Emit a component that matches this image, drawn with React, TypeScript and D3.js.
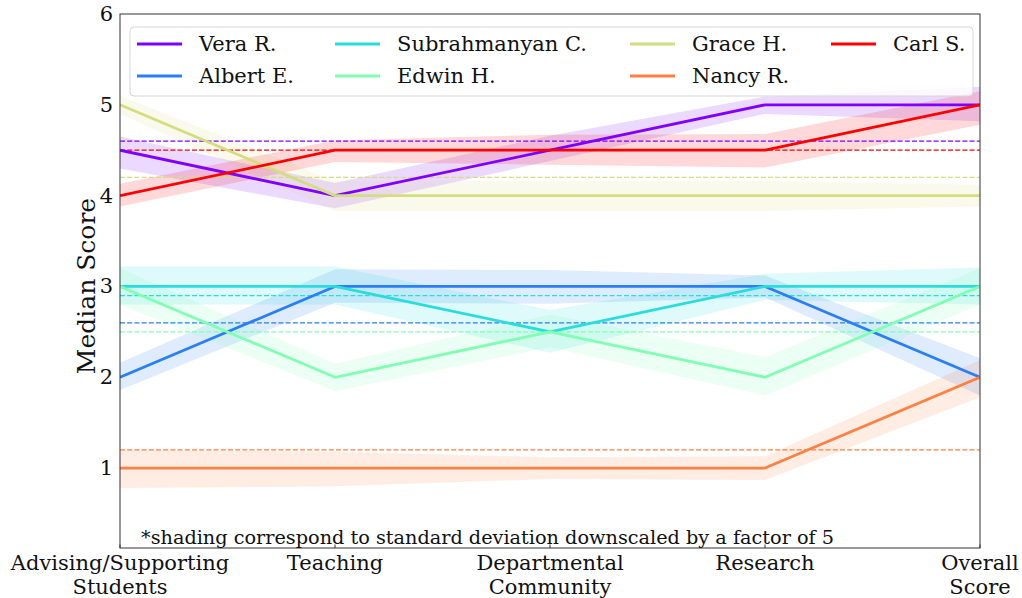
import React from "react";
import * as d3 from "d3";

const categories = ["Advising/Supporting\nStudents", "Teaching", "Departmental\nCommunity", "Research", "Overall\nScore"];
const names = ["Vera R.", "Albert E.", "Subrahmanyan C.", "Edwin H.", "Grace H.", "Nancy R.", "Carl S."];
const colors = ["#8000ff", "#2a7ff6", "#2adddd", "#80ffb4", "#d4dd80", "#ff8042", "#ff0000"];
const medians = [
  [4.5, 4, 4.5, 5, 5],
  [2, 3, 3, 3, 2],
  [3, 3, 2.5, 3, 3],
  [3, 2, 2.5, 2, 3],
  [5, 4, 4, 4, 4],
  [1, 1, 1, 1, 2],
  [4, 4.5, 4.5, 4.5, 5],
];
const bandLower = [
  [4.3, 3.86, 4.38, 4.9, 4.82],
  [1.86, 2.82, 2.81, 2.88, 1.8],
  [2.8, 2.8, 2.27, 2.85, 2.8],
  [2.8, 1.85, 2.33, 1.8, 2.8],
  [4.9, 3.83, 3.83, 3.83, 3.88],
  [0.78, 0.8, 0.88, 0.87, 1.78],
  [3.88, 4.37, 4.34, 4.31, 4.78],
];
const bandUpper = [
  [4.65, 4.14, 4.66, 5.09, 5.2],
  [2.16, 3.19, 3.18, 3.12, 2.21],
  [3.22, 3.22, 2.74, 3.14, 3.21],
  [3.2, 2.15, 2.69, 2.22, 3.2],
  [5.1, 4.16, 4.16, 4.16, 4.12],
  [1.2, 1.18, 1.12, 1.13, 2.19],
  [4.13, 4.61, 4.67, 4.68, 5.15],
];
const means = [4.6, 2.6, 2.9, 2.5, 4.2, 1.2, 4.5];
const yTicks = [1, 2, 3, 4, 5, 6];
const note = "*shading correspond to standard deviation downscaled by a factor of 5";

const W = 1022, H = 598;
const L = 120, R = 980, T = 14, B = 548;
const FONT = "'DejaVu Serif', serif";

export default function App() {
  const x = d3.scaleLinear().domain([0, categories.length - 1]).range([L, R]);
  const y = d3.scaleLinear().domain([0.12, 6]).range([B, T]);
  const line = d3.line<number>().x((_, i) => x(i)).y((d) => y(d));

  const bandPath = (s: number) =>
    d3
      .area<number>()
      .x((_, i) => x(i))
      .y0((_, i) => y(bandLower[s][i]))
      .y1((_, i) => y(bandUpper[s][i]))(bandLower[s]) as string;

  // legend layout: column-major, 2 rows, 4 cols
  const colX = [137, 335, 630, 831];
  const rowY = [44, 76];

  return (
    <svg width={W} height={H} style={{ position: "absolute", left: 0, top: 0, background: "#fff" }} fontFamily={FONT}>
      <rect x={0} y={0} width={W} height={H} fill="#fff" />
      <defs>
        <clipPath id="plot">
          <rect x={L} y={T} width={R - L} height={B - T} />
        </clipPath>
      </defs>
      <g clipPath="url(#plot)">
        {names.map((n, s) => (
          <path key={"b" + n} d={bandPath(s)} fill={colors[s]} fillOpacity={0.15} stroke="none" />
        ))}
        {names.map((n, s) => (
          <line
            key={"m" + n}
            x1={L}
            x2={R}
            y1={y(means[s])}
            y2={y(means[s])}
            stroke={colors[s]}
            strokeWidth={1.3}
            strokeDasharray="5,2.2"
          />
        ))}
        {names.map((n, s) => (
          <path key={"l" + n} d={line(medians[s]) as string} fill="none" stroke={colors[s]} strokeWidth={2.8} strokeLinejoin="round" />
        ))}
      </g>
      {/* spines */}
      <rect x={L} y={T} width={R - L} height={B - T} fill="none" stroke="#333" strokeWidth={1} />
      {/* x ticks inward */}
      {categories.map((c, i) => (
        <line key={"xt" + i} x1={x(i)} x2={x(i)} y1={B} y2={B - 3.5} stroke="#333" strokeWidth={1} />
      ))}
      {/* y tick labels */}
      {yTicks.map((t) => (
        <text key={"yt" + t} x={113} y={y(t)} textAnchor="end" dominantBaseline="central" fontSize={21} fill="#111">
          {t}
        </text>
      ))}
      {/* x labels */}
      {categories.map((c, i) =>
        c.split("\n").map((ln, k) => (
          <text key={"xl" + i + k} x={x(i)} y={570 + k * 24} textAnchor="middle" fontSize={21} fill="#111">
            {ln}
          </text>
        ))
      )}
      <text x={86} y={286} transform={`rotate(-90, 86, 286)`} textAnchor="middle" dominantBaseline="central" fontSize={25} fill="#111">
        Median Score
      </text>
      <text x={141} y={544} fontSize={19.25} fill="#111">
        {note}
      </text>
      {/* legend */}
      <rect x={130} y={27} width={843} height={69} rx={4} fill="#fff" fillOpacity={0.8} stroke="#d6d6d6" strokeWidth={1} />
      {names.map((n, s) => {
        const col = Math.floor(s / 2);
        const row = s % 2;
        const lx = colX[col];
        const ly = rowY[row];
        return (
          <g key={"lg" + n}>
            <line x1={lx} x2={lx + 45} y1={ly} y2={ly} stroke={colors[s]} strokeWidth={2.8} />
            <text x={lx + 62} y={ly} dominantBaseline="central" fontSize={21} fill="#111">
              {n}
            </text>
          </g>
        );
      })}
    </svg>
  );
}
